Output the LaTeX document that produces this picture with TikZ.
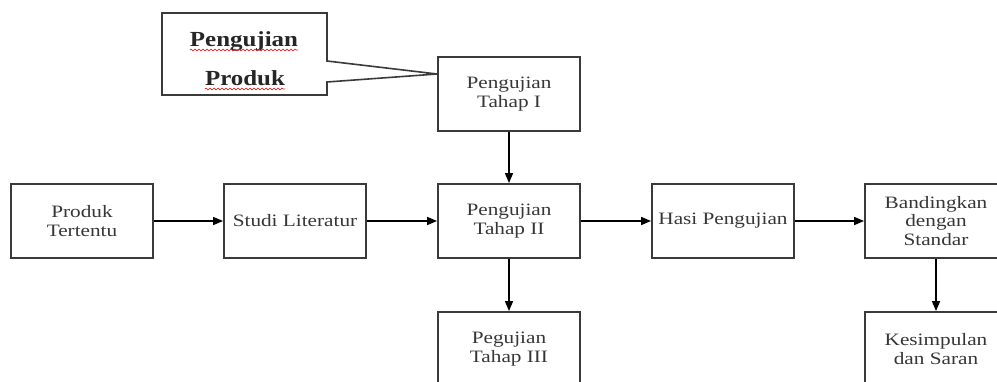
\documentclass[tikz,border=0pt]{standalone}
\usepackage{fontspec}
\setmainfont{Liberation Serif}
\newfontfamily\boxfont[FakeStretch=1.22]{Liberation Serif}
\newfontfamily\callfont[FakeStretch=1.16]{Liberation Serif}
\usetikzlibrary{arrows.meta,decorations.pathmorphing}
\definecolor{edgegray}{HTML}{3A3A3A}
\definecolor{txtgray}{HTML}{363636}
\definecolor{spellred}{HTML}{E02020}

\begin{document}
\begin{tikzpicture}[x=1pt,y=-1pt,
  stepbox/.style={draw=edgegray, line width=1.8pt, minimum width=142pt,
    minimum height=74pt, inner sep=0pt, align=center, text=txtgray,
    font=\boxfont\fontsize{17.4}{18.6}\selectfont},
  flow/.style={draw=black, line width=1.4pt, -{Triangle[length=10pt,width=8pt]}},
  calltext/.style={inner sep=0pt, anchor=base, text=black!85,
    font=\callfont\bfseries\fontsize{21.5}{24}\selectfont},
  spell/.style={draw=spellred, line width=0.7pt,
    decorate, decoration={snake, amplitude=0.9pt, segment length=4pt}}]
\useasboundingbox (0,0) rectangle (997,382);
\clip (0,0) rectangle (997,382);

% process boxes
\node[stepbox] (t1)   at (509,94)  {Pengujian\\Tahap I};
\node[stepbox] (prod) at (82,221)  {Produk\\Tertentu};
\node[stepbox] (lit)  at (295,221) {Studi Literatur};
\node[stepbox] (t2)   at (509,221) {Pengujian\\Tahap II};
\node[stepbox] (hasil) at (723,221) {Hasi Pengujian};
\node[stepbox] (band) at (936,221) {Bandingkan\\dengan\\Standar};
\node[stepbox] (t3)   at (509,349) {Pegujian\\Tahap III};
\node[stepbox] (kes)  at (936,349) {Kesimpulan\\dan Saran};

% flow arrows
\draw[flow] (prod) -- (lit);
\draw[flow] (lit) -- (t2);
\draw[flow] (t1) -- (t2);
\draw[flow] (t2) -- (hasil);
\draw[flow] (hasil) -- (band);
\draw[flow] (t2) -- (t3);
\draw[flow] (band) -- (kes);

% callout pointing at the first test stage
\coordinate (tip) at ([yshift=20pt]t1.west);
\draw[edgegray, line width=1.6pt, line join=miter]
  (162,13) -- (327,13) -- (327,61) -- (tip) -- (327,82) -- (327,95)
  -- (162,95) -- cycle;
\node[calltext] (cw1) at (244,47) {Pengujian};
\node[calltext] (cw2) at (245,86) {Produk};
\draw[spell] ([yshift=-3pt]cw1.base west) -- ([yshift=-3pt]cw1.base east);
\draw[spell] ([yshift=-3pt]cw2.base west) -- ([yshift=-3pt]cw2.base east);
\end{tikzpicture}
\end{document}
